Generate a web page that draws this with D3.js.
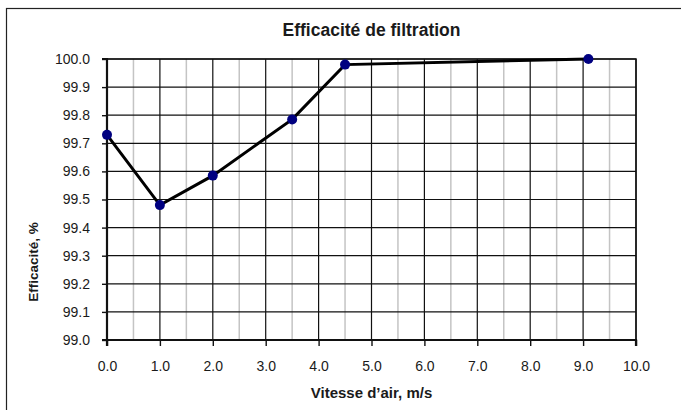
<!DOCTYPE html>
<html>
<head>
<meta charset="utf-8">
<script src="https://cdn.jsdelivr.net/npm/d3@7"></script>
<style>
body { margin: 0; background: #fff; }
text { font-family: "Liberation Sans", Arial, sans-serif; fill: #1a1a1a; }
</style>
</head>
<body>
<div class="chart"></div>
<script>
var width = 681;
var height = 410;

// data
var vitesse = [0.0, 1.0, 2.0, 3.5, 4.5, 9.1];
var efficacite = [99.73, 99.48, 99.585, 99.785, 99.98, 100.0];
var xTicks = [0, 1, 2, 3, 4, 5, 6, 7, 8, 9, 10];
var xMinor = [0.5, 1.5, 2.5, 3.5, 4.5, 5.5, 6.5, 7.5, 8.5, 9.5];
var yTicks = [99.0, 99.1, 99.2, 99.3, 99.4, 99.5, 99.6, 99.7, 99.8, 99.9, 100.0];

var margin = {left: 107, right: 45, top: 59, bottom: 70};

var svg = d3.select('.chart')
	.append('svg')
	.attr('width', width)
	.attr('height', height);

// outer frame (cut off at right and bottom)
svg.append('rect')
	.attr('x', 6.5).attr('y', 8.5)
	.attr('width', 700).attr('height', 500)
	.attr('fill', 'none')
	.attr('stroke', '#222')
	.attr('stroke-width', 1.2);

var x = d3.scaleLinear().domain([0, 10]).range([margin.left, width - margin.right]);
var y = d3.scaleLinear().domain([99.0, 100.0]).range([height - margin.bottom, margin.top]);

var g = svg.append('g');

// minor vertical grid (grey)
g.selectAll('.minor')
	.data(xMinor)
	.enter().append('line')
	.attr('x1', function(d){ return x(d) }).attr('x2', function(d){ return x(d) })
	.attr('y1', y(99.0)).attr('y2', y(100.0))
	.attr('stroke', '#c4c4c4')
	.attr('stroke-width', 1.5);

// major vertical grid
g.selectAll('.vmajor')
	.data(xTicks)
	.enter().append('line')
	.attr('x1', function(d){ return x(d) }).attr('x2', function(d){ return x(d) })
	.attr('y1', y(99.0)).attr('y2', y(100.0))
	.attr('stroke', '#111')
	.attr('stroke-width', 1.2);

// horizontal grid
g.selectAll('.hmajor')
	.data(yTicks)
	.enter().append('line')
	.attr('x1', x(0)).attr('x2', x(10))
	.attr('y1', function(d){ return y(d) }).attr('y2', function(d){ return y(d) })
	.attr('stroke', '#111')
	.attr('stroke-width', 1.2);

// axes
var xAxis = d3.axisBottom(x).tickValues(xTicks).tickSize(6).tickPadding(15)
	.tickFormat(d3.format('.1f'));
var yAxis = d3.axisLeft(y).tickValues(yTicks).tickSize(5).tickPadding(12)
	.tickFormat(d3.format('.1f'));

var gx = svg.append('g')
	.attr('transform', 'translate(0,' + y(99.0) + ')')
	.call(xAxis);
var gy = svg.append('g')
	.attr('transform', 'translate(' + x(0) + ',0)')
	.call(yAxis);

[gx, gy].forEach(function(a){
	a.select('.domain').attr('stroke', '#111').attr('stroke-width', 2.2);
	a.selectAll('.tick line').attr('stroke', '#111').attr('stroke-width', 1.4);
	a.selectAll('text')
		.attr('font-size', '14px')
		.attr('fill', '#1a1a1a')
		.style('font-family', '"Liberation Sans", Arial, sans-serif');
});
gy.select('.domain').attr('d', 'M-5,' + y(99.0) + 'H0V' + y(100.0) + 'H-5');
gx.select('.domain').attr('d', 'M' + x(0) + ',6V0H' + x(10) + 'V6');

// top and right plot border
svg.append('path')
	.attr('d', 'M' + x(0) + ',' + y(100.0) + 'H' + x(10) + 'V' + y(99.0))
	.attr('fill', 'none')
	.attr('stroke', '#111')
	.attr('stroke-width', 1.5);

// series
var line = d3.line()
	.x(function(d, i){ return x(vitesse[i]) })
	.y(function(d){ return y(d) });

svg.append('path')
	.datum(efficacite)
	.attr('d', line)
	.attr('fill', 'none')
	.attr('stroke', '#000')
	.attr('stroke-width', 3);

svg.selectAll('.pt')
	.data(efficacite)
	.enter().append('circle')
	.attr('cx', function(d, i){ return x(vitesse[i]) })
	.attr('cy', function(d){ return y(d) })
	.attr('r', 5)
	.attr('fill', '#000080');

// titles
svg.append('text')
	.attr('x', (x(0) + x(10)) / 2)
	.attr('y', 36)
	.attr('text-anchor', 'middle')
	.attr('font-size', '17.5px')
	.attr('font-weight', 'bold')
	.text('Efficacité de filtration');

svg.append('text')
	.attr('x', (x(0) + x(10)) / 2)
	.attr('y', 398)
	.attr('text-anchor', 'middle')
	.attr('font-size', '15px')
	.attr('font-weight', 'bold')
	.text('Vitesse d\u2019air, m/s');

svg.append('text')
	.attr('transform', 'translate(38,262) rotate(-90)')
	.attr('text-anchor', 'middle')
	.attr('font-size', '13.5px')
	.attr('font-weight', 'bold')
	.text('Efficacité, %');
</script>
</body>
</html>
